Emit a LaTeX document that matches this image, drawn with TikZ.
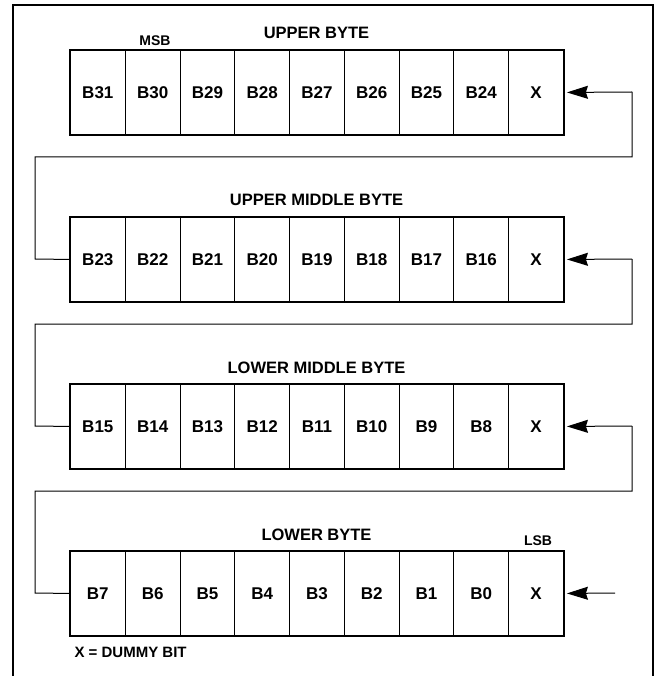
\documentclass[tikz,border=0pt]{standalone}
\usepackage{fontspec}
\setmainfont{Liberation Sans}
\usetikzlibrary{fit,arrows.meta,calc}
\begin{document}
\begin{tikzpicture}[x=1pt,y=-1pt,
 cell/.style={draw, line width=0.9pt, minimum width=54.78pt, minimum height=84pt, inner sep=0pt, text height=12.4pt, text depth=0pt, font=\bfseries\fontsize{17}{17}\selectfont, anchor=north west},
 bytebox/.style={draw, line width=2.4pt, inner sep=0pt},
 conn/.style={line width=1pt},
 arr/.style={-{Stealth[length=21pt,width=13pt,inset=2pt]}, shorten >=3pt},
 title/.style={font=\bfseries\fontsize{16.5}{16.5}\selectfont, anchor=base},
 small/.style={font=\bfseries\fontsize{14}{14}\selectfont, anchor=base}]
\useasboundingbox (0,0) rectangle (660,676);
\clip (0,0) rectangle (660,676);
\draw[line width=2.4pt] (13,690) -- (13,5) -- (653,5) -- (653,690);
% rows
\foreach \r/\labs/\ttl in {0/{B31,B30,B29,B28,B27,B26,B25,B24,X}/UPPER BYTE,
                          1/{B23,B22,B21,B20,B19,B18,B17,B16,X}/UPPER MIDDLE BYTE,
                          2/{B15,B14,B13,B12,B11,B10,B9,B8,X}/LOWER MIDDLE BYTE,
                          3/{B7,B6,B5,B4,B3,B2,B1,B0,X}/LOWER BYTE}{
  \foreach \t [count=\i from 0] in \labs {
    \node[cell] (c\r-\i) at ({70+54.78*\i},{50+167*\r}) {\t};
  }
  \node[bytebox, fit=(c\r-0)(c\r-8)] (box\r) {};
  \node[title] (t\r) at (316.5,{39+167*\r}) {\ttl};
}
\node[small] (msb) at (155,45.5) {MSB};
\node[small] (lsb) at (538,545.5) {LSB};
\node[small, anchor=base west, font=\bfseries\fontsize{15}{15}\selectfont] (note) at (71,657) {X = DUMMY BIT};
% connectors
\foreach \r in {0,1,2}{
  \pgfmathtruncatemacro{\n}{\r+1}
  \coordinate (ll\r) at (35,{92+167*\n});
  \coordinate (lu\r) at (35,{157+167*\r});
  \coordinate (ru\r) at (632,{157+167*\r});
  \coordinate (rr\r) at (632,{92+167*\r});
  \draw[conn] (box\n.west) -- (ll\r) -- (lu\r) -- (ru\r) -- (rr\r);
  \draw[conn,arr] (rr\r) -- (c\r-8.east);
}
\coordinate (in) at (615,593);
\draw[conn,arr] (in) -- (c3-8.east);
\end{tikzpicture}
\end{document}
